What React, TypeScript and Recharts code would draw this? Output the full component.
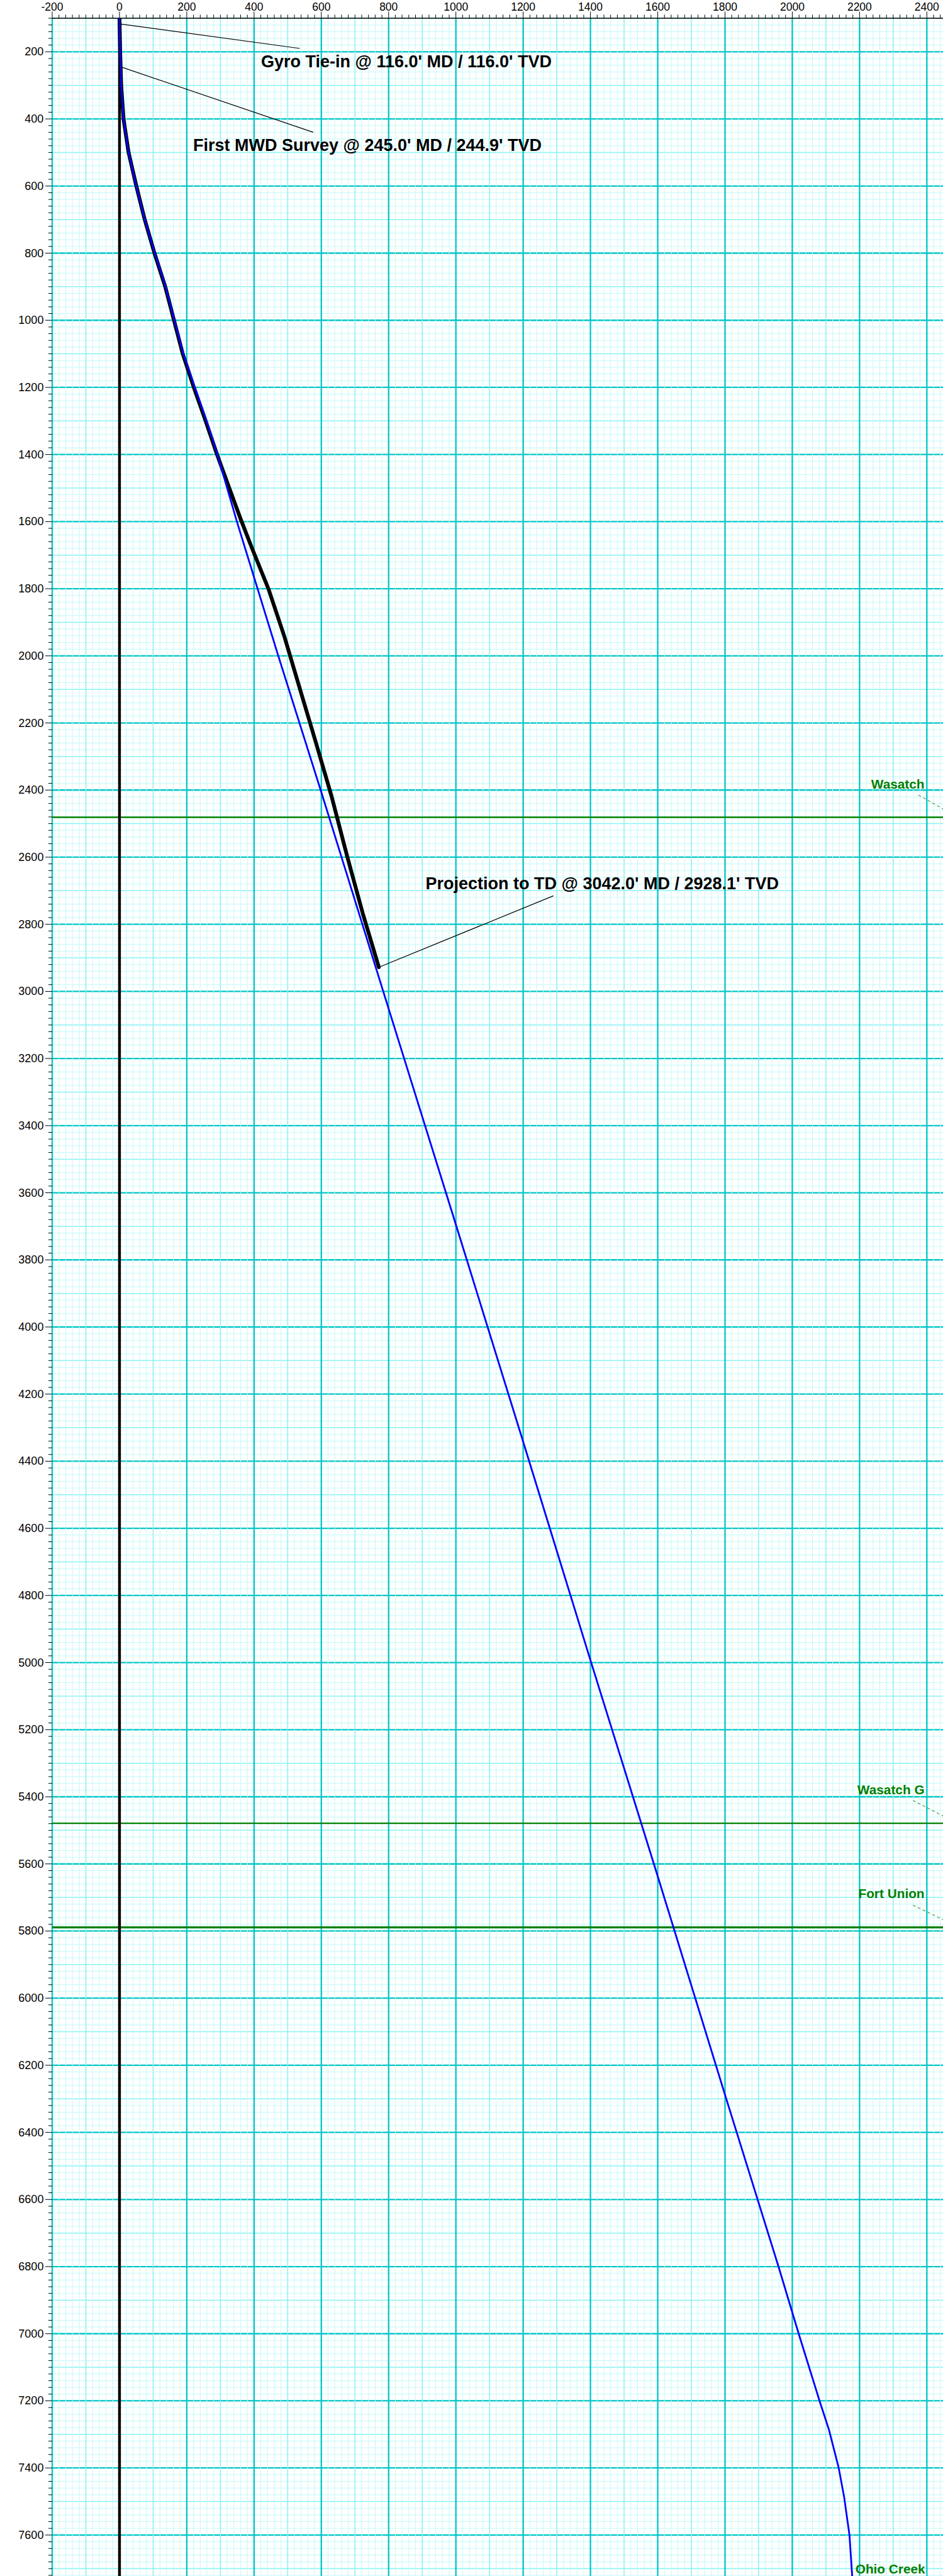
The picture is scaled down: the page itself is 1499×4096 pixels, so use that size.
import { ComposedChart, Scatter, XAxis, YAxis, ReferenceLine, ReferenceDot } from 'recharts'

const FONT = '"Liberation Sans", Arial, Helvetica, sans-serif'

const W = 1499
const H = 4096

// axis ranges (ft)
const X_DOMAIN: [number, number] = [-200, 2448]
const Y_DOMAIN: [number, number] = [100, 7722]

// labelled ticks
const xLabels = [-200, 0, 200, 400, 600, 800, 1000, 1200, 1400, 1600, 1800, 2000, 2200, 2400]
const yLabels = [
  200, 400, 600, 800, 1000, 1200, 1400, 1600, 1800, 2000, 2200, 2400, 2600, 2800, 3000, 3200,
  3400, 3600, 3800, 4000, 4200, 4400, 4600, 4800, 5000, 5200, 5400, 5600, 5800, 6000, 6200,
  6400, 6600, 6800, 7000, 7200, 7400, 7600,
]

// plan (blue) - vertical section vs TVD
const planVS = [
  0, 2, 5, 12, 27, 50, 75, 105, 137, 150, 163, 190, 224, 259, 291, 349, 472, 598, 722, 784, 1000,
  1200, 1400, 1600, 1800, 1959, 2019, 2081, 2109, 2138, 2154, 2170, 2178,
]
const planTVD = [
  100, 200, 300, 400, 500, 600, 700, 800, 900, 950, 1000, 1100, 1200, 1300, 1400, 1600, 2000,
  2400, 2800, 3000, 3695, 4342, 4993, 5637, 6288, 6800, 7000, 7200, 7286, 7400, 7486, 7600, 7722,
]

// actual surveys (black)
const surveyVS = [
  0, 2, 5, 12, 27, 50, 75, 104, 136, 149, 162, 188, 221, 256, 290, 327, 360, 393, 443, 490, 537,
  584, 630, 677, 723, 771,
]
const surveyTVD = [
  100, 200, 300, 400, 500, 600, 700, 800, 900, 950, 1000, 1100, 1200, 1300, 1400, 1502, 1592,
  1677, 1801, 1942, 2101, 2259, 2417, 2598, 2767, 2928,
]

// formation tops
const formationNames = ['Wasatch', 'Wasatch G', 'Fort Union', 'Ohio Creek']
const formationTVD = [2481, 5479, 5789]

const annotations = [
  "Gyro Tie-in @ 116.0' MD / 116.0' TVD",
  "First MWD Survey @ 245.0' MD / 244.9' TVD",
  "Projection to TD @ 3042.0' MD / 2928.1' TVD",
]

const range = (a: number, b: number, step: number) => {
  const out: number[] = []
  for (let v = a; v <= b; v += step) out.push(v)
  return out
}

const xTicks = range(-200, 2440, 20)
const yTicks = range(100, 7720, 20)

// grid level: 0 = minor (20), 1 = medium (100), 2 = major (200)
const level = (v: number) => (v % 200 === 0 ? 2 : v % 100 === 0 ? 1 : 0)
const GRID = [
  { stroke: '#c2f9f9', width: 1 },
  { stroke: '#86f2f2', width: 1.5 },
  { stroke: '#00c6c6', width: 2.3 },
]

const plan = planVS.map((x, i) => ({ x, y: planTVD[i] }))
const surveys = surveyVS.map((x, i) => ({ x, y: surveyTVD[i] }))
const zeroLine = [
  { x: 0, y: Y_DOMAIN[0] },
  { x: 0, y: Y_DOMAIN[1] },
]

const XTick = ({ x, y, payload }: any) => {
  const v = payload.value
  const major = xLabels.includes(v)
  return (
    <g>
      <line x1={x} x2={x} y1={y} y2={y - (major ? 10.6 : 5.7)} stroke="#000" strokeWidth={1} />
      {major && (
        <text x={x} y={y - 12.5} textAnchor="middle" fontSize={17.5} fontFamily={FONT} fill="#000">
          {v}
        </text>
      )}
    </g>
  )
}

const YTick = ({ x, y, payload }: any) => {
  const v = payload.value
  const major = yLabels.includes(v)
  return (
    <g>
      <line x1={x - (major ? 11 : 6)} x2={x} y1={y} y2={y} stroke="#000" strokeWidth={1} />
      {major && (
        <text
          x={x - 13.6}
          y={y}
          textAnchor="end"
          dominantBaseline="central"
          fontSize={18}
          fontFamily={FONT}
          fill="#000"
        >
          {v}
        </text>
      )}
    </g>
  )
}

const label =
  (text: string, size: number, fill: string, anchor: 'start' | 'end') =>
  (p: any) =>
    (
      <text
        x={p.cx}
        y={p.cy}
        textAnchor={anchor}
        fontSize={size}
        fontWeight="bold"
        fontFamily={FONT}
        fill={fill}
      >
        {text}
      </text>
    )

const noDot = () => <g />

// draw lighter levels first so the major lines sit on top
const gridOrder = [0, 1, 2]

export default function App() {
  return (
    <div style={{ position: 'absolute', left: 0, top: 0, background: '#fff' }}>
      <ComposedChart width={W} height={H} margin={{ top: 0, right: 0, bottom: 0, left: 0 }}>
        <XAxis
          xAxisId={0}
          type="number"
          dataKey="x"
          orientation="top"
          domain={X_DOMAIN}
          allowDataOverflow
          ticks={xTicks}
          interval={0}
          height={29}
          tickSize={0}
          tickMargin={0}
          tickLine={false}
          tick={<XTick />}
          axisLine={{ stroke: '#000', strokeWidth: 1.5 }}
        />
        <YAxis
          yAxisId={0}
          type="number"
          dataKey="y"
          domain={Y_DOMAIN}
          reversed
          allowDataOverflow
          ticks={yTicks}
          interval={0}
          width={83}
          tickSize={0}
          tickMargin={0}
          tickLine={false}
          tick={<YTick />}
          axisLine={false}
        />

        {/* graph-paper grid */}
        {gridOrder.map((lv) =>
          yTicks
            .filter((v) => level(v) === lv)
            .map((v) => (
              <ReferenceLine
                key={`h${v}`}
                y={v}
                stroke={GRID[lv].stroke}
                strokeWidth={GRID[lv].width}
              />
            )),
        )}
        {gridOrder.map((lv) =>
          xTicks
            .filter((v) => level(v) === lv)
            .map((v) => (
              <ReferenceLine
                key={`v${v}`}
                x={v}
                stroke={GRID[lv].stroke}
                strokeWidth={GRID[lv].width}
              />
            )),
        )}

        {/* formation tops */}
        <ReferenceLine y={formationTVD[0]} stroke="#008000" strokeWidth={2.4} />
        <ReferenceLine y={formationTVD[1]} stroke="#008000" strokeWidth={2.4} />
        <ReferenceLine y={formationTVD[2]} stroke="#008000" strokeWidth={3.4} />
        <ReferenceLine
          segment={[{ x: 2375, y: 2415 }, { x: 2448, y: 2456 }]}
          stroke="#008000"
          strokeWidth={1}
          strokeDasharray="4.5 4"
          ifOverflow="visible"
        />
        <ReferenceLine
          segment={[{ x: 2359, y: 5411 }, { x: 2448, y: 5457 }]}
          stroke="#008000"
          strokeWidth={1}
          strokeDasharray="4.5 4"
          ifOverflow="visible"
        />
        <ReferenceLine
          segment={[{ x: 2359, y: 5723 }, { x: 2448, y: 5766 }]}
          stroke="#008000"
          strokeWidth={1}
          strokeDasharray="4.5 4"
          ifOverflow="visible"
        />

        <Scatter
          data={zeroLine}
          fill="#000"
          line={{ stroke: '#000', strokeWidth: 4.4 }}
          shape={noDot}
          isAnimationActive={false}
        />
        <Scatter
          data={surveys}
          fill="#000"
          line={{ stroke: '#000', strokeWidth: 6, strokeLinecap: 'round', strokeLinejoin: 'round' }}
          shape={noDot}
          isAnimationActive={false}
        />
        <Scatter
          data={plan}
          fill="#0000ff"
          line={{ stroke: '#0000ff', strokeWidth: 2.8, strokeLinecap: 'round', strokeLinejoin: 'round' }}
          shape={noDot}
          isAnimationActive={false}
        />

        {/* annotation leaders */}
        <ReferenceLine segment={[{ x: 2, y: 117 }, { x: 536, y: 190 }]} stroke="#000" strokeWidth={1.2} />
        <ReferenceLine segment={[{ x: 7, y: 246 }, { x: 576, y: 440 }]} stroke="#000" strokeWidth={1.2} />
        <ReferenceLine segment={[{ x: 771, y: 2928 }, { x: 1290, y: 2715 }]} stroke="#000" strokeWidth={1.2} />

        <ReferenceDot x={421} y={246} r={0} shape={label(annotations[0], 27, '#000', 'start')} />
        <ReferenceDot x={219} y={496} r={0} shape={label(annotations[1], 27, '#000', 'start')} />
        <ReferenceDot x={910} y={2696} r={0} shape={label(annotations[2], 27, '#000', 'start')} />

        <ReferenceDot x={2393} y={2396} r={0} shape={label(formationNames[0], 20.8, '#008000', 'end')} />
        <ReferenceDot x={2393} y={5392} r={0} shape={label(formationNames[1], 20.8, '#008000', 'end')} />
        <ReferenceDot x={2393} y={5702} r={0} shape={label(formationNames[2], 20.8, '#008000', 'end')} />
        <ReferenceDot x={2395} y={7715} r={0} shape={label(formationNames[3], 20.8, '#008000', 'end')} />
      </ComposedChart>
    </div>
  )
}
